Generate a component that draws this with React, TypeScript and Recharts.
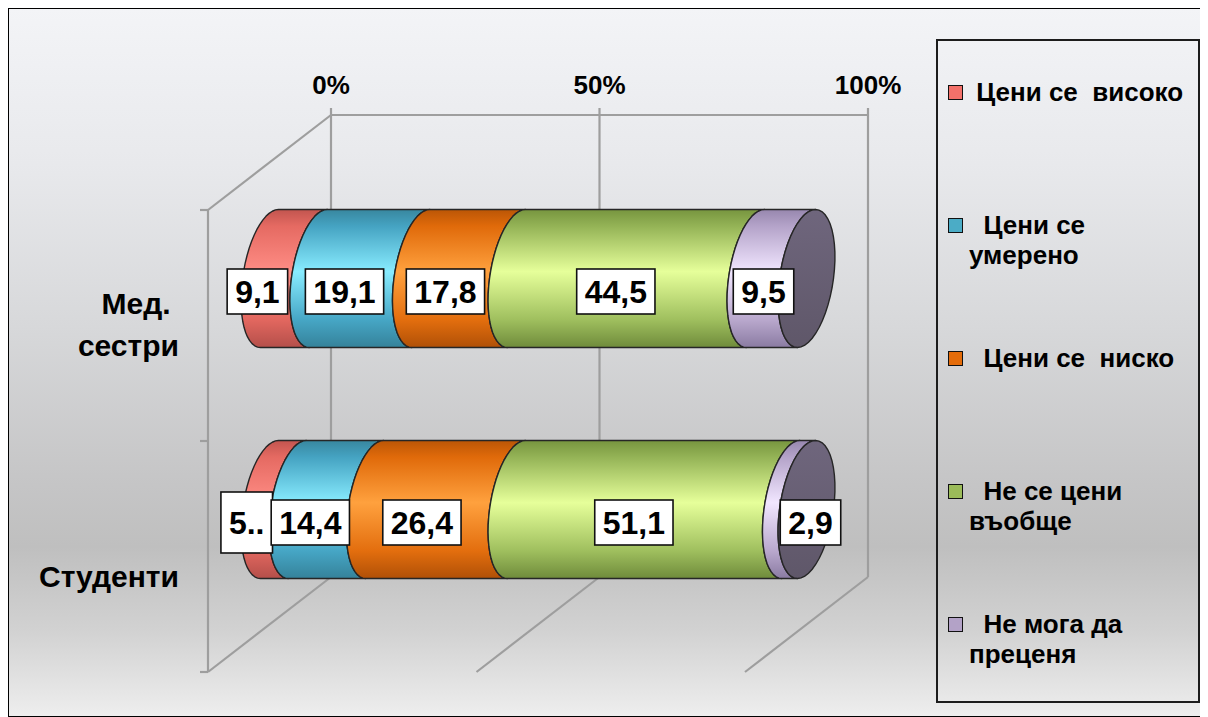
import React from 'react';
import { BarChart, Bar, XAxis, YAxis, CartesianGrid, LabelList } from 'recharts';

// Respondent groups (category axis)
const GROUPS = ['Мед. сестри', 'Студенти'];

// Share of answers, % per group
const HIGH = [9.1, 5.2];
const MODERATE = [19.1, 14.4];
const LOW = [17.8, 26.4];
const NOT_AT_ALL = [44.5, 51.1];
const UNSURE = [9.5, 2.9];

// Percent axis
const PERCENT_TICKS = [0, 50, 100];
const PERCENT_LABELS = ['0%', '50%', '100%'];

// Series keys, legend names and legend line breaks
const SERIES_KEYS = ['high', 'moderate', 'low', 'none', 'unsure'];
const SERIES_NAMES = ['Цени се  високо', 'Цени се умерено', 'Цени се  ниско', 'Не се цени въобще', 'Не мога да преценя'];
const LEGEND_LINES = [
  [' Цени се  високо'],
  ['  Цени се', 'умерено'],
  ['  Цени се  ниско'],
  ['  Не се цени', 'въобще'],
  ['  Не мога да', 'преценя'],
];

// Data labels that did not fit and were cut short
const CLIPPED_LABELS = [{ group: 'Студенти', key: 'high' }];

const data = GROUPS.map((group, i) => ({
  group,
  high: HIGH[i],
  moderate: MODERATE[i],
  low: LOW[i],
  none: NOT_AT_ALL[i],
  unsure: UNSURE[i],
}));

// Cylinder shading: [offset, colour] along the cross-section
const SHADES: Record<string, [number, string][]> = {
  high: [[0, '#c2554f'], [0.12, '#e56a62'], [0.45, '#ff8d85'], [0.8, '#e2675f'], [1, '#b44f4a']],
  moderate: [[0, '#38879f'], [0.12, '#45a3c2'], [0.45, '#88ecff'], [0.8, '#46a6c5'], [1, '#35829a']],
  low: [[0, '#bb5606'], [0.12, '#e06a0a'], [0.45, '#ffa13e'], [0.8, '#e36e0e'], [1, '#b05007']],
  none: [[0, '#77953f'], [0.12, '#94b356'], [0.45, '#e6ff9a'], [0.8, '#9fbf5e'], [1, '#6f8b3b']],
  unsure: [[0, '#9787ae'], [0.12, '#b4a3c9'], [0.45, '#f1e6ff'], [0.8, '#b9a8cd'], [1, '#8a7ba2']],
};
const SWATCHES: Record<string, string> = {
  high: '#f3716a',
  moderate: '#4bacc6',
  low: '#e46c0a',
  none: '#9bbb59',
  unsure: '#b3a2c7',
};

const FONT = "'Liberation Sans', Arial, sans-serif";
const W = 1200;
const H = 709;
const PLOT_LEFT = 200;
const PLOT_TOP = 202;
const PLOT_RIGHT = 737;
const PLOT_BOTTOM = 664;
const X_AXIS_H = 30;
const WALL = '#9e9e9e';

// 3D projection: back wall offset from the front plane
const DEPTH_DX = 123;
const DEPTH_DY = 95;
const HALF_DX = DEPTH_DX / 2;
const HALF_DY = DEPTH_DY / 2;
const CAP_RX = 27;
const CAP_SHEAR = 9;
const BAR_THICKNESS = 138;

function ellipseArc(cx: number, cy: number, ry: number, from: number, to: number, steps = 28) {
  let d = '';
  for (let i = 0; i <= steps; i++) {
    const t = from + ((to - from) * i) / steps;
    const px = cx + CAP_RX * Math.cos(t) + CAP_SHEAR * Math.sin(t);
    const py = cy - ry * Math.sin(t);
    d += `L${px.toFixed(2)},${py.toFixed(2)}`;
  }
  return d;
}

function makeCylinder(seriesIndex: number) {
  const key = SERIES_KEYS[seriesIndex];
  const isLast = seriesIndex === SERIES_KEYS.length - 1;
  return (props: any) => {
    const { x, y, width, height } = props;
    if (x == null || width == null) return <g />;
    const a = x + HALF_DX;
    const b = x + width + HALF_DX;
    const top = y - HALF_DY;
    const bot = top + height;
    const cy = top + height / 2;
    const ry = height / 2;
    const P = Math.PI;
    const body =
      `M${a + CAP_SHEAR},${top}L${b + CAP_SHEAR},${top}` +
      ellipseArc(b, cy, ry, P / 2, (3 * P) / 2) +
      `L${a - CAP_SHEAR},${bot}` +
      ellipseArc(a, cy, ry, (3 * P) / 2, P / 2) +
      'Z';
    return (
      <g>
        <path d={body} fill={`url(#cyl-${key})`} stroke="#262626" strokeWidth={1.4} strokeLinejoin="round" />
        {isLast && (
          <path
            d={`M${b + CAP_RX},${cy}` + ellipseArc(b, cy, ry, 0, 2 * P, 48) + 'Z'}
            fill="url(#cyl-cap)"
            stroke="#262626"
            strokeWidth={1.4}
          />
        )}
      </g>
    );
  };
}

const charWidth = (c: string) => (c === ',' || c === '.' ? 0.278 : 0.556);

function formatValue(v: number, clipped: boolean) {
  const s = v.toFixed(1).replace('.', ',');
  return clipped ? s[0] + '..' : s;
}

function makeLabel(seriesIndex: number) {
  const key = SERIES_KEYS[seriesIndex];
  const isFirst = seriesIndex === 0;
  const isLast = seriesIndex === SERIES_KEYS.length - 1;
  return (props: any) => {
    const vb = props.viewBox && props.viewBox.width != null ? props.viewBox : props;
    const { x, y, width, height } = vb;
    const value = Number(props.value);
    const group = GROUPS[props.index];
    if (x == null || !isFinite(value)) return null;
    const clipped = CLIPPED_LABELS.some((c) => c.group === group && c.key === key);
    const text = formatValue(value, clipped);
    const fontSize = 32;
    const textW = text.split('').reduce((s, c) => s + charWidth(c) * fontSize, 0);
    const boxW = textW + 16;
    const boxH = clipped ? 61 : 45;
    const frac = (x + width / 2 - PLOT_LEFT) / (PLOT_RIGHT - PLOT_LEFT);
    let cx = x + width / 2 + HALF_DX - 27 + 10 * frac;
    if (isFirst) cx -= 10;
    // a sliver at the far end hangs its label over the end cap
    if (isLast && width < boxW / 2) cx = x + width + HALF_DX + 4;
    const cy = y - HALF_DY + height / 2 + 13;
    return (
      <g>
        <rect x={cx - boxW / 2} y={cy - boxH / 2} width={boxW} height={boxH} fill="#ffffff" stroke="#111" strokeWidth={1.6} />
        <text x={cx} y={cy + 11.5} textAnchor="middle" fontFamily={FONT} fontWeight="bold" fontSize={fontSize} fill="#000">
          {text}
        </text>
      </g>
    );
  };
}

const PercentTick = (props: any) => {
  const { x, payload } = props;
  const i = PERCENT_TICKS.indexOf(payload.value);
  return (
    <text x={x + DEPTH_DX} y={PLOT_TOP - DEPTH_DY - 21} textAnchor="middle" fontFamily={FONT} fontWeight="bold" fontSize={26} fill="#000">
      {i >= 0 ? PERCENT_LABELS[i] : ''}
    </text>
  );
};

const GroupTick = (props: any) => {
  const { y, payload } = props;
  const words: string[] = String(payload.value).split(' ');
  const n = words.length;
  return (
    <g>
      {words.map((w, i) => (
        <text
          key={i}
          x={PLOT_LEFT - 29}
          y={y + 20 - (n - 1 - i) * 42 + 10.5}
          textAnchor="end"
          fontFamily={FONT}
          fontWeight="bold"
          fontSize={30}
          fill="#000"
        >
          {i < n - 1 ? w + '\u00a0' : w}
        </text>
      ))}
    </g>
  );
};

// Back wall and floor edges, one per percent gridline
const backWallLine = (props: any) => {
  const { x1, y1, y2, index } = props;
  if (x1 == null) return <g key={props.key ?? index} />;
  const bx = x1 + DEPTH_DX;
  return (
    <g key={props.key ?? `v-${index}`}>
      <line x1={bx} y1={y1 - DEPTH_DY - 7} x2={bx} y2={y2 - DEPTH_DY} stroke={WALL} strokeWidth={2.2} />
      <line x1={bx} y1={y2 - DEPTH_DY} x2={x1} y2={y2} stroke={WALL} strokeWidth={2.2} />
    </g>
  );
};

// Category separators on the side wall, plus the top edges of the walls
const sideWallLine = (props: any) => {
  const { x1, x2, y1, index } = props;
  if (x1 == null) return <g key={props.key ?? index} />;
  return (
    <g key={props.key ?? `h-${index}`}>
      <line x1={x1 - 8} y1={y1} x2={x1} y2={y1} stroke={WALL} strokeWidth={2.2} />
      {index === 0 && (
        <>
          <line x1={x1} y1={y1} x2={x1 + DEPTH_DX} y2={y1 - DEPTH_DY} stroke={WALL} strokeWidth={2.2} />
          <line x1={x1 + DEPTH_DX} y1={y1 - DEPTH_DY} x2={x2 + DEPTH_DX} y2={y1 - DEPTH_DY} stroke={WALL} strokeWidth={2.2} />
        </>
      )}
    </g>
  );
};

const Legend3D = () => (
  <div
    style={{
      position: 'absolute',
      left: 928,
      top: 31,
      width: 264,
      height: 664,
      border: '2px solid #1c1c1c',
      boxSizing: 'border-box',
      fontFamily: FONT,
      fontWeight: 'bold',
      fontSize: 26,
      lineHeight: '30px',
      color: '#000',
    }}
  >
    {SERIES_KEYS.map((key, i) => {
      const center = 53 + 133 * i - 2;
      return (
        <div key={key} title={SERIES_NAMES[i]}>
          <div
            style={{
              position: 'absolute',
              left: 10,
              top: center - 7.5,
              width: 15,
              height: 15,
              boxSizing: 'border-box',
              border: '1.5px solid #111',
              background: SWATCHES[key],
            }}
          />
          {LEGEND_LINES[i].map((line, j) => (
            <div key={j} style={{ position: 'absolute', left: 31, top: center - 15 + j * 30, whiteSpace: 'pre' }}>
              {line}
            </div>
          ))}
        </div>
      );
    })}
  </div>
);

export default function App() {
  return (
    <div
      style={{
        position: 'relative',
        width: W,
        height: H,
        background:
          'linear-gradient(to bottom, #f3f4f7 0%, #e8e9ec 22%, #d7d8da 45%, #c6c6c7 66%, #bfbfbf 76%, #d2d2d2 88%, #eeeeee 100%)',
      }}
    >
      <svg width={0} height={0} style={{ position: 'absolute' }}>
        <defs>
          {SERIES_KEYS.map((key) => (
            <linearGradient key={key} id={`cyl-${key}`} x1="0" y1="0" x2="0" y2="1">
              {SHADES[key].map(([o, c], i) => (
                <stop key={i} offset={o} stopColor={c} />
              ))}
            </linearGradient>
          ))}
          <linearGradient id="cyl-cap" x1="0" y1="0" x2="0" y2="1">
            <stop offset={0} stopColor="#6f667d" />
            <stop offset={1} stopColor="#5f5769" />
          </linearGradient>
        </defs>
      </svg>
      <BarChart
        width={W}
        height={H}
        data={data}
        layout="vertical"
        margin={{ top: PLOT_TOP - X_AXIS_H, right: W - PLOT_RIGHT, bottom: H - PLOT_BOTTOM, left: 0 }}
        barSize={BAR_THICKNESS}
      >
        <CartesianGrid
          vertical={backWallLine}
          horizontal={sideWallLine}
          horizontalCoordinatesGenerator={({ offset }: any) => [
            offset.top,
            offset.top + offset.height / 2,
            offset.top + offset.height,
          ]}
        />
        <XAxis
          type="number"
          orientation="top"
          domain={[0, 100]}
          ticks={PERCENT_TICKS}
          height={X_AXIS_H}
          axisLine={false}
          tickLine={false}
          tick={PercentTick}
          interval={0}
        />
        <YAxis
          type="category"
          dataKey="group"
          width={PLOT_LEFT}
          axisLine={{ stroke: WALL, strokeWidth: 2.2 }}
          tickLine={false}
          tick={GroupTick}
        />
        {SERIES_KEYS.map((key, i) => (
          <Bar key={key} dataKey={key} name={SERIES_NAMES[i]} stackId="share" isAnimationActive={false} shape={makeCylinder(i)}>
            <LabelList dataKey={key} content={makeLabel(i)} />
          </Bar>
        ))}
      </BarChart>
      <Legend3D />
      <div
        style={{
          position: 'absolute',
          left: 0,
          top: 0,
          width: W,
          height: H,
          boxSizing: 'border-box',
          border: '1px solid #000',
          pointerEvents: 'none',
        }}
      />
    </div>
  );
}
